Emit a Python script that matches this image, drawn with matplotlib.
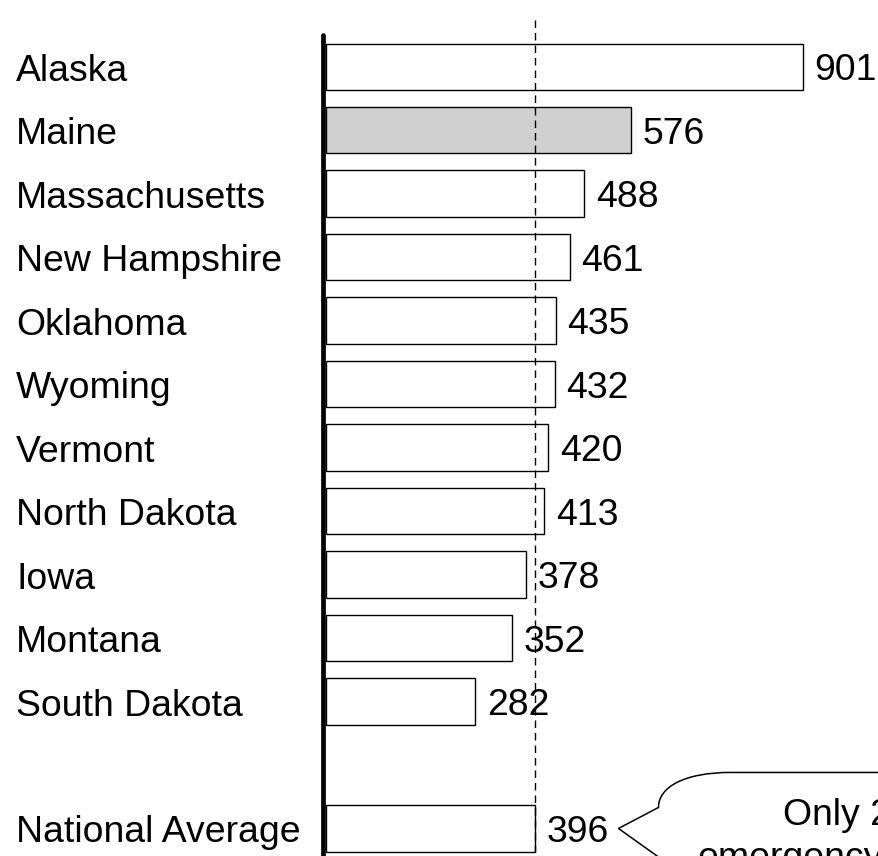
import matplotlib
matplotlib.use("Agg")
import matplotlib.pyplot as plt
from matplotlib.path import Path
from matplotlib.patches import PathPatch
from matplotlib.transforms import IdentityTransform

# --- data -------------------------------------------------------------
states = ["Alaska", "Maine", "Massachusetts", "New Hampshire", "Oklahoma",
          "Wyoming", "Vermont", "North Dakota", "Iowa", "Montana",
          "South Dakota"]
rates = [901, 576, 488, 461, 435, 432, 420, 413, 378, 352, 282]
highlight = "Maine"
avg_label = "National Average"
avg_rate = 396
callout_lines = ["Only 2", "emergency"]

# --- layout -----------------------------------------------------------
W, H, DPI = 879, 856, 100
PX_PER_UNIT = 0.529      # horizontal scale, pixels per unit
X0_PX = 326              # pixel column of the zero line
ROW0_PX = 66.7           # pixel row of the first bar centre
ROW_PX = 63.48           # pixel pitch between bars
FS = 26.9

plt.rcParams["font.family"] = ["Liberation Sans", "DejaVu Sans"]

fig = plt.figure(figsize=(W / DPI, H / DPI), dpi=DPI, facecolor="white")
ax = fig.add_axes([0, 0, 1, 1])
ax.set_xlim(-X0_PX / PX_PER_UNIT, (W - X0_PX) / PX_PER_UNIT)
y_bottom = (H - ROW0_PX) / ROW_PX
ax.set_ylim(y_bottom, -ROW0_PX / ROW_PX)
ax.set_xticks([])
ax.set_yticks([])
for side in ("top", "right", "bottom"):
    ax.spines[side].set_visible(False)

rows = list(range(len(states)))
avg_row = len(states) + 1
all_rows = rows + [avg_row]
all_vals = rates + [avg_rate]
all_labels = states + [avg_label]
fills = ["#d0d0d0" if s == highlight else "white" for s in states] + ["white"]

ax.barh(all_rows, all_vals, height=0.73, left=0, color=fills,
        edgecolor="black", linewidth=1.0, zorder=2)

# thick vertical axis line
left = ax.spines["left"]
left.set_position(("data", -3 / PX_PER_UNIT))
left.set_linewidth(3.4)
left.set_capstyle("round")
left.set_bounds((35 - ROW0_PX) / ROW_PX, y_bottom)
left.set_zorder(4)

# dashed reference line at the national average
ax.plot([avg_rate, avg_rate], [(20 - ROW0_PX) / ROW_PX, y_bottom],
        color="black", linewidth=1.0, linestyle=(0, (5.4, 3.6)),
        zorder=3, clip_on=False)

# category names and value labels
for r, lab, v in zip(all_rows, all_labels, all_vals):
    ax.annotate(lab, xy=(16, r), xycoords=("figure pixels", "data"),
                xytext=(0, -14), textcoords="offset pixels",
                ha="left", va="baseline", fontsize=FS, color="black")
    ax.annotate(str(v), xy=(v, r), xytext=(11.5, -13.5),
                textcoords="offset pixels", ha="left", va="baseline",
                fontsize=FS, color="black", zorder=5)

# speech-bubble callout pointing at the national average label
tx, ty = ax.transData.transform((avg_rate, avg_row))
tx += 83
pts = [(400, 56), (112, 56), (67, 56), (40, 42), (40, 21), (0, 0),
       (70, -50), (400, -50), (400, 56)]
codes = [Path.MOVETO, Path.LINETO, Path.CURVE4, Path.CURVE4, Path.CURVE4,
         Path.LINETO, Path.LINETO, Path.LINETO, Path.CLOSEPOLY]
bubble = Path([(tx + dx, ty + dy) for dx, dy in pts], codes)
fig.add_artist(PathPatch(bubble, facecolor="white", edgecolor="black",
                         linewidth=1.1, transform=IdentityTransform(),
                         zorder=6))
fig.text((tx + 165) / W, (ty + 3) / H, callout_lines[0], ha="left",
         va="baseline", fontsize=FS, color="black", zorder=7)
fig.text((tx + 79) / W, (ty - 40) / H, callout_lines[1], ha="left",
         va="baseline", fontsize=FS, color="black", zorder=7)

fig.savefig("out.png", dpi=DPI, facecolor="white")
